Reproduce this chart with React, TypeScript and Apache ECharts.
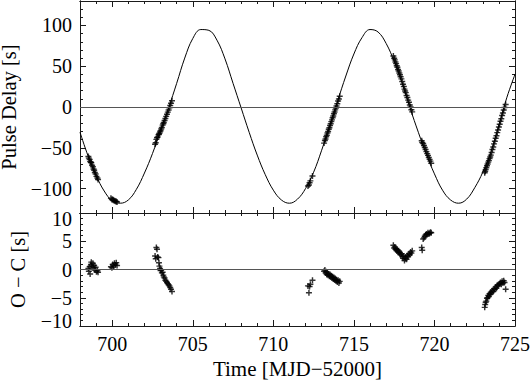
import React, { useEffect, useRef } from 'react';
import * as echarts from 'echarts';

// Model curve
const modelTime = [
  698.0, 698.5, 699.0, 699.5, 700.0, 700.5, 701.0, 701.5, 702.0, 702.5,
  703.0, 703.5, 704.0, 704.5, 705.0, 705.5, 706.0, 706.5, 707.0, 707.5,
  708.0, 708.5, 709.0, 709.5, 710.0, 710.5, 711.0, 711.5, 712.0, 712.5,
  713.0, 713.5, 714.0, 714.5, 715.0, 715.5, 716.0, 716.5, 717.0, 717.5,
  718.0, 718.5, 719.0, 719.5, 720.0, 720.5, 721.0, 721.5, 722.0, 722.5,
  723.0, 723.5, 724.0, 724.5, 725.0,
];
const modelDelay = [
  -31, -60, -84, -103, -115, -118, -114, -101, -81, -57,
  -29, -1, 29, 60, 84, 95, 94, 82, 59, 29,
  -1, -31, -59, -83, -102, -114, -118, -113, -100, -80,
  -53, -23, 8, 38, 65, 85, 95, 92, 78, 56,
  29, -2, -31, -58, -82, -102, -114, -118, -113, -99,
  -80, -55, -22, 12, 40,
];

// Observations
const obsTime = [
  698.52, 698.55, 698.6, 698.63, 698.68, 698.7, 698.75, 698.8, 698.84, 698.88, 698.92, 698.97, 699.02, 699.08, 699.12,
  699.92, 699.98, 700.03, 700.08, 700.14, 700.2, 700.25, 700.3,
  702.66, 702.7, 702.74, 702.78, 702.82, 702.87, 702.9, 702.93, 702.97, 703.0, 703.04, 703.08, 703.13, 703.17, 703.2,
  703.25, 703.3, 703.35, 703.4, 703.45, 703.5, 703.55, 703.6, 703.65, 703.71,
  712.15, 712.21, 712.25, 712.3, 712.43,
  713.15, 713.2, 713.24, 713.28, 713.32, 713.36, 713.4, 713.44, 713.48, 713.52, 713.56, 713.6,
  713.64, 713.68, 713.72, 713.76, 713.8, 713.84, 713.88, 713.92, 713.97, 714.02, 714.07, 714.12,
  717.45, 717.5, 717.54, 717.58, 717.62, 717.66, 717.7, 717.74, 717.78, 717.82, 717.86, 717.9, 717.95, 718.0,
  718.05, 718.1, 718.14, 718.18, 718.22, 718.27, 718.32, 718.37, 718.42, 718.47, 718.52, 718.57, 718.62,
  719.21, 719.24, 719.3, 719.35, 719.4, 719.45, 719.5, 719.55, 719.6, 719.65, 719.7, 719.75, 719.8,
  723.12, 723.15, 723.18, 723.22, 723.26, 723.3, 723.34, 723.38, 723.42, 723.46, 723.5, 723.55, 723.6, 723.65, 723.7,
  723.75, 723.8, 723.85, 723.9, 723.95, 724.0, 724.05, 724.1, 724.15, 724.2, 724.25, 724.3, 724.35, 724.42,
];
const obsDelay = [
  -60.8, -62.7, -64.3, -67.0, -67.7, -68.3, -71.4, -73.3, -76.0, -77.5, -80.3, -82.2, -85.1, -87.1, -88.8,
  -112, -113.5, -113.5, -114.5, -115, -115.5, -116, -116.5,
  -45.6, -43.9, -39.7, -37.7, -36.9, -34.2, -33.4, -32.3, -30.5, -29.2, -26.9, -25.1, -22.2, -20.5, -19.1,
  -16.5, -14.1, -11.5, -8.9, -6.3, -3.7, -0.9, 1.8, 4.5, 7.7,
  -96.9, -95.7, -93, -90.6, -84.7,
  -44.3, -41.1, -39.2, -36.6, -34.7, -32.0, -30.0, -27.4, -25.4, -22.7, -20.6, -17.9,
  -15.8, -13.1, -11.1, -8.3, -6.2, -3.5, -1.4, 1.2, 3.9, 7.3, 9.8, 13.1,
  62.5, 59.8, 57.8, 55.3, 53.2, 50.7, 48.7, 46.1, 44.2, 41.6, 39.6, 37.0, 34.5, 31.3,
  27.9, 25.2, 21.9, 19.7, 17.6, 14.1, 11.7, 8.4, 5.8, 2.5, -0.1, -3.4, -6.0,
  -41.4, -43.6, -44.8, -47.3, -49.7, -52.2, -54.7, -57.2, -59.3, -61.9, -64.2, -66.4, -68.9,
  -80.7, -78.7, -76.8, -74.6, -72.1, -70, -67.6, -65.8, -63.3, -61.4, -59, -55.8, -52.1, -49, -45.2,
  -42, -38.3, -35.2, -31.4, -28.2, -24.6, -21.1, -17.5, -14.4, -10.5, -7.4, -3.6, -0.5, 3.1,
];
const obsResidual = [
  0.2, -0.3, 0.5, -0.8, 0.9, 1.3, 0.6, 1.1, 0.3, 0.7, -0.1, 0.4, -0.4, -0.2, -0.5,
  0.5, 0.3, 0.9, 0.6, 1.1, 0.8, 1.2, 0.7,
  2.4, 1.9, 3.9, 3.6, 2.2, 2.1, 1.2, 0.6, 0.2, -0.2, -0.1, -0.6, -0.5, -1.0, -1.3,
  -1.5, -1.9, -2.1, -2.3, -2.5, -2.7, -2.9, -3.2, -3.5, -3.9,
  -2.9, -4.1, -3.0, -2.6, -1.9,
  -0.3, -0.1, -0.6, -0.4, -0.9, -0.6, -1.0, -0.8, -1.2, -0.9, -1.3, -1.1,
  -1.5, -1.3, -1.7, -1.4, -1.8, -1.6, -2.0, -1.8, -2.2, -1.9, -2.4, -2.1,
  4.3, 3.8, 4.0, 3.6, 3.7, 3.3, 3.5, 3.1, 3.3, 2.9, 3.0, 2.6, 2.8, 2.3,
  2.0, 2.4, 1.6, 1.9, 2.2, 1.8, 2.5, 2.3, 2.8, 2.6, 3.1, 2.9, 3.3,
  3.9, 3.4, 5.4, 5.6, 5.9, 6.1, 6.3, 6.2, 6.5, 6.3, 6.4, 6.6, 6.5,
  -6.7, -6.2, -5.8, -5.6, -5.1, -5.0, -4.6, -4.8, -4.3, -4.4, -4.0, -4.1, -3.7, -3.9, -3.4,
  -3.5, -3.1, -3.3, -2.8, -2.9, -2.6, -2.5, -2.3, -2.6, -2.1, -2.4, -2.0, -2.3, -3.5,
];

const timeRange = [698, 725];
const delayRange = [-130, 130];
const residualRange = [-10, 10];

const FONT = "'Liberation Serif', 'DejaVu Serif', serif";
const INK = '#1a1a1a';
const PLUS = 'path://M3.8,0h2.4v10h-2.4zM0,3.8h10v2.4h-10z';

const fmt = (v: number) => (v < 0 ? '\u2212' + Math.abs(v) : String(v));
const labelStyle = { fontFamily: FONT, fontSize: 20, color: '#000' };

function axisBase(len: number) {
  return {
    type: 'value' as const,
    axisLine: { show: true, onZero: false, lineStyle: { color: INK, width: 1 } },
    axisTick: { show: true, inside: true, length: len, lineStyle: { color: INK, width: 1 } },
    splitLine: { show: false },
  };
}

function xAxes(grid: number, labels: boolean) {
  const major = (position: string, withLabels: boolean) => ({
    ...axisBase(6),
    gridIndex: grid,
    position,
    min: timeRange[0],
    max: timeRange[1],
    splitNumber: 5,
    minInterval: 5,
    maxInterval: 5,
    axisLabel: withLabels
      ? { show: true, margin: 8, ...labelStyle, formatter: (v: number) => (v % 5 === 0 ? fmt(v) : '') }
      : { show: false },
    ...(withLabels
      ? {
          name: 'Time [MJD\u221252000]',
          nameLocation: 'middle',
          nameGap: 32,
          nameTextStyle: { ...labelStyle, fontSize: 21 },
        }
      : {}),
  });
  const minor = (position: string) => ({
    ...axisBase(3),
    gridIndex: grid,
    position,
    min: timeRange[0],
    max: timeRange[1],
    interval: 1,
    axisLabel: { show: false },
  });
  return [major('bottom', labels), major('top', false), minor('bottom'), minor('top')];
}

export default function App() {
  const ref = useRef<HTMLDivElement>(null);
  useEffect(() => {
    const chart = echarts.init(ref.current!, null, { renderer: 'svg' });
    const obsTop = obsTime.map((t, i) => [t, obsDelay[i]]);
    const obsBottom = obsTime.map((t, i) => [t, obsResidual[i]]);
    const model = modelTime.map((t, i) => [t, modelDelay[i]]);

    const topYMajor = (position: string, withLabels: boolean) => ({
      ...axisBase(6),
      gridIndex: 0,
      position,
      min: delayRange[0],
      max: delayRange[1],
      splitNumber: 5,
      minInterval: 50,
      maxInterval: 50,
      axisLabel: withLabels
        ? { show: true, margin: 8, ...labelStyle, formatter: (v: number) => (v % 50 === 0 ? fmt(v) : '') }
        : { show: false },
      ...(withLabels
        ? {
            name: 'Pulse Delay [s]',
            nameLocation: 'middle',
            nameGap: 52,
            nameTextStyle: { ...labelStyle, fontSize: 20.5 },
          }
        : {}),
    });
    const topYMinor = (position: string) => ({
      ...axisBase(3),
      gridIndex: 0,
      position,
      min: delayRange[0],
      max: delayRange[1],
      interval: 10,
      axisLabel: { show: false },
    });
    const botY = (position: string, withLabels: boolean) => ({
      ...axisBase(6),
      gridIndex: 1,
      position,
      min: residualRange[0],
      max: residualRange[1],
      interval: 5,
      minorTick: { show: true, splitNumber: 5, length: 3, lineStyle: { color: INK, width: 1 } },
      axisLabel: withLabels
        ? {
            show: true,
            margin: 8,
            ...labelStyle,
            formatter: (v: number) =>
              v === residualRange[1] ? '{a|' + fmt(v) + '}' : v === residualRange[0] ? '{b|' + fmt(v) + '}' : fmt(v),
            rich: {
              a: { ...labelStyle, padding: [11, 0, 0, 0] },
              b: { ...labelStyle, padding: [0, 0, 11, 0] },
            },
          }
        : { show: false },
      ...(withLabels
        ? {
            name: 'O \u2212 C [s]',
            nameLocation: 'middle',
            nameGap: 52,
            nameTextStyle: { ...labelStyle, fontSize: 20.5 },
          }
        : {}),
    });

    const zeroLine = {
      silent: true,
      symbol: 'none',
      label: { show: false },
      lineStyle: { color: '#555', width: 1.2, type: 'solid' },
      data: [{ yAxis: 0 }],
    };

    chart.setOption({
      animation: false,
      backgroundColor: '#fff',
      textStyle: { fontFamily: FONT },
      grid: [
        { left: 80, top: 1, width: 435, height: 212, containLabel: false, outerBoundsMode: 'none' },
        { left: 80, top: 213, width: 435, height: 113, containLabel: false, outerBoundsMode: 'none' },
      ],
      xAxis: [...xAxes(0, false), ...xAxes(1, true)],
      yAxis: [
        topYMajor('left', true),
        topYMajor('right', false),
        topYMinor('left'),
        topYMinor('right'),
        botY('left', true),
        botY('right', false),
      ],
      series: [
        {
          type: 'line',
          xAxisIndex: 0,
          yAxisIndex: 0,
          data: model,
          smooth: 0.4,
          showSymbol: false,
          lineStyle: { color: '#000', width: 1 },
          markLine: zeroLine,
          z: 2,
        },
        {
          type: 'scatter',
          xAxisIndex: 0,
          yAxisIndex: 0,
          data: obsTop,
          symbol: PLUS,
          symbolSize: 6,
          itemStyle: { color: '#000' },
          z: 3,
        },
        {
          type: 'scatter',
          xAxisIndex: 4,
          yAxisIndex: 4,
          data: obsBottom,
          symbol: PLUS,
          symbolSize: 6,
          itemStyle: { color: '#000' },
          markLine: zeroLine,
          z: 3,
        },
      ],
    });
    return () => chart.dispose();
  }, []);
  return (
    <div
      ref={ref}
      style={{ position: 'absolute', left: 0, top: 0, width: 531, height: 381, background: '#fff' }}
    />
  );
}
